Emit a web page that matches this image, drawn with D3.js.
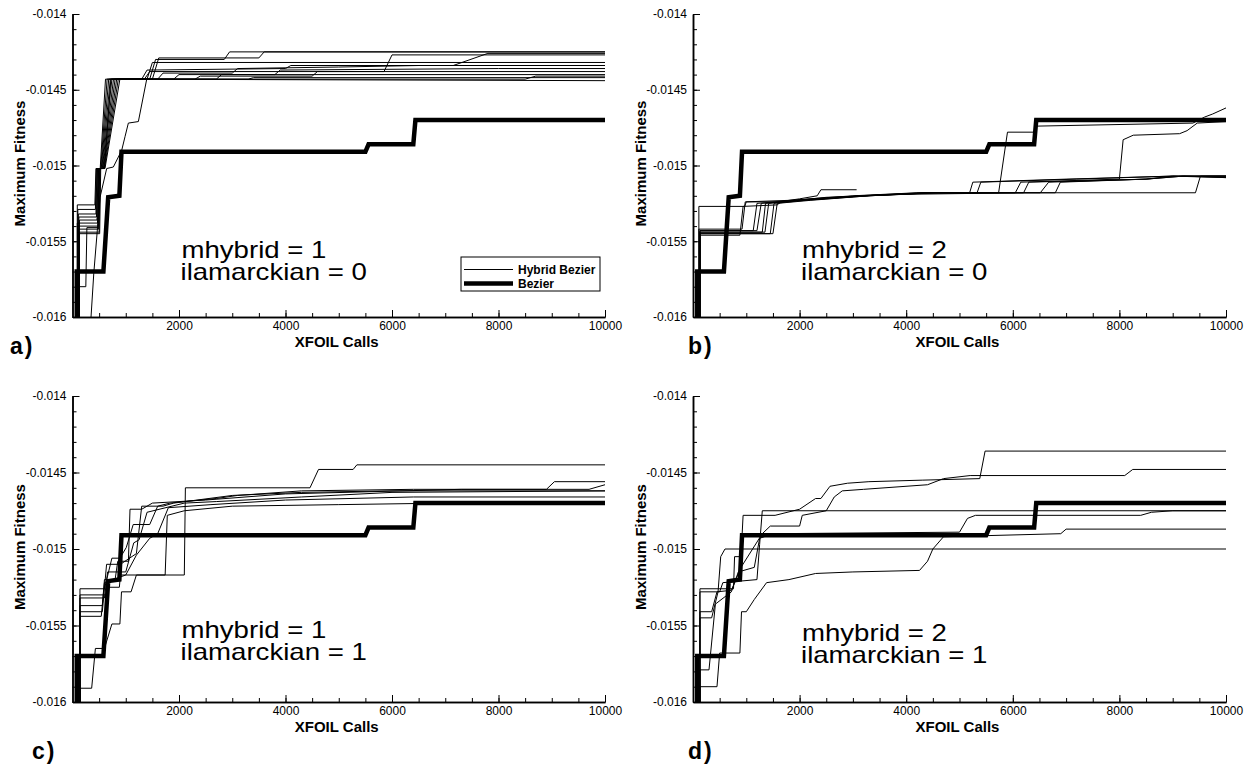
<!DOCTYPE html>
<html lang="en">
<head>
<meta charset="UTF-8" />
<title>Maximum Fitness vs XFOIL Calls</title>
<style>
  body { margin: 0; background: #fff; }
  svg { display: block; font-family: "Liberation Sans", Arial, sans-serif; }
  .axis path, .axis line { fill: none; stroke: #000; }
  .axis path { stroke-width: 1.5; }
  .axis text { font-size: 12px; fill: #000; font-family: "Liberation Sans", Arial, sans-serif; }
</style>
</head>
<body>
<div id="app"></div>
<script src="https://cdn.jsdelivr.net/npm/d3@7"></script>
<script>
// tick labels
const xTicks = [2000, 4000, 6000, 8000, 10000];
const yTicks = [-0.014, -0.0145, -0.015, -0.0155, -0.016];
const panelNames = ["a)", "b)", "c)", "d)"];
const mhybridValues = [1, 2, 1, 2];
const ilamarckianValues = [0, 0, 1, 1];
const legendNames = ["Hybrid Bezier", "Bezier"];

// [XFOIL calls, maximum fitness] — Bezier run (same in every panel)
const bezier = [[80,-0.0161],[80,-0.0157],[580,-0.0157],[670,-0.01521],[880,-0.0152],[920,-0.01491],[5500,-0.01491],[5560,-0.01486],[6400,-0.01486],[6440,-0.0147],[10000,-0.0147]];

// hybrid bezier runs, mhybrid = 1, ilamarckian = 0
const hybridA = [
  [[90,-0.0161],[90,-0.01526],[420,-0.01526],[440,-0.01502],[520,-0.01502],[620,-0.01443],[1450,-0.01443],[1560,-0.0143],[2850,-0.0143],[2950,-0.01425],[10000,-0.01425]],
  [[100,-0.0161],[100,-0.01529],[430,-0.01529],[450,-0.01502],[530,-0.01502],[650,-0.01443],[1500,-0.01443],[1620,-0.01429],[3500,-0.01429],[3600,-0.01425],[10000,-0.01425]],
  [[110,-0.0161],[110,-0.01532],[440,-0.01532],[460,-0.01502],[540,-0.01502],[680,-0.01443],[1350,-0.01443],[1450,-0.01438],[5850,-0.01438],[6000,-0.01427],[10000,-0.01427]],
  [[120,-0.0161],[120,-0.01534],[450,-0.01534],[470,-0.01502],[550,-0.01502],[710,-0.01443],[1300,-0.01443],[1400,-0.01437],[4000,-0.01436],[4100,-0.01434],[7150,-0.01434],[7800,-0.01426],[10000,-0.01426]],
  [[130,-0.0161],[130,-0.01536],[460,-0.01536],[480,-0.01502],[560,-0.01502],[740,-0.01443],[1400,-0.01443],[1500,-0.01432],[10000,-0.01432]],
  [[90,-0.0161],[90,-0.01538],[470,-0.01538],[490,-0.01502],[570,-0.01502],[770,-0.01443],[1600,-0.01443],[1700,-0.01439],[3000,-0.01439],[3100,-0.01436],[5000,-0.01435],[6500,-0.01434],[10000,-0.01434]],
  [[100,-0.0161],[100,-0.0154],[480,-0.0154],[500,-0.01502],[580,-0.01502],[800,-0.01443],[1900,-0.01443],[2000,-0.0144],[3800,-0.0144],[3900,-0.01437],[8000,-0.01436],[10000,-0.01436]],
  [[110,-0.0161],[110,-0.01542],[490,-0.01542],[510,-0.01502],[590,-0.01502],[830,-0.01443],[2300,-0.01443],[2400,-0.01441],[4500,-0.01441],[4600,-0.01438],[10000,-0.01438]],
  [[120,-0.0161],[120,-0.01544],[500,-0.01544],[520,-0.01502],[600,-0.01502],[860,-0.01443],[2700,-0.01443],[2800,-0.0144],[10000,-0.0144]],
  [[130,-0.0161],[130,-0.01545],[510,-0.01545],[530,-0.01502],[610,-0.01502],[890,-0.01443],[3300,-0.01443],[3400,-0.01442],[10000,-0.01442]],
  [[330,-0.0161],[400,-0.01571],[517,-0.01521],[642,-0.01502],[767,-0.01501],[924,-0.0149],[986,-0.01481],[1049,-0.01472],[1237,-0.01471],[1394,-0.01443],[8500,-0.01443],[8700,-0.01441],[10000,-0.01441]],
  [[95,-0.0161],[95,-0.0158],[250,-0.0158],[270,-0.01541],[480,-0.01541],[500,-0.01502],[600,-0.01502],[720,-0.01443],[10000,-0.01444]]
];

// mhybrid = 2, ilamarckian = 0
const hybridB = [
  [[110,-0.0161],[110,-0.01527],[970,-0.01527],[1000,-0.01524],[1600,-0.01524],[2000,-0.01522],[2330,-0.0152],[2400,-0.01516],[3070,-0.01516]],
  [[110,-0.0161],[110,-0.01542],[920,-0.01542],[980,-0.01524],[1800,-0.01523],[3000,-0.0152],[4200,-0.01518],[5190,-0.01518],[5250,-0.01511],[7000,-0.01509],[9000,-0.01507],[10000,-0.01507]],
  [[130,-0.0161],[130,-0.01543],[1130,-0.01543],[1200,-0.01525],[1900,-0.01523],[3100,-0.0152],[4300,-0.01518],[5330,-0.01518],[5400,-0.01511],[7200,-0.01509],[9000,-0.01507],[10000,-0.01508]],
  [[130,-0.0161],[130,-0.01544],[1300,-0.01544],[1360,-0.01525],[2000,-0.01523],[3200,-0.0152],[4400,-0.01518],[5734,-0.01518],[5900,-0.01478],[6400,-0.01478],[6450,-0.01474],[9380,-0.01472],[9600,-0.01468],[9750,-0.01466],[10000,-0.01462]],
  [[130,-0.0161],[130,-0.01544],[1350,-0.01544],[1420,-0.01525],[2000,-0.01523],[3200,-0.0152],[4500,-0.01518],[9427,-0.01518],[9520,-0.01507],[10000,-0.01507]],
  [[130,-0.0161],[130,-0.01545],[1450,-0.01545],[1520,-0.01525],[2100,-0.01523],[3300,-0.0152],[4500,-0.01518],[6047,-0.01518],[6150,-0.01511],[8000,-0.01509],[8070,-0.01483],[8260,-0.0148],[9130,-0.01479],[9270,-0.01477],[9460,-0.01472],[10000,-0.01471]],
  [[130,-0.0161],[130,-0.01545],[1500,-0.01545],[1580,-0.01525],[2200,-0.01523],[3300,-0.0152],[4600,-0.01518],[6516,-0.01518],[6673,-0.01511],[8500,-0.01509],[9200,-0.01507],[10000,-0.01507]],
  [[130,-0.0161],[130,-0.01546],[880,-0.01546],[940,-0.01527],[1580,-0.01526],[1650,-0.01524],[2500,-0.01521],[4000,-0.01519],[6203,-0.01518],[6300,-0.01511],[8500,-0.01509],[9200,-0.01507],[10000,-0.01508]],
  [[130,-0.0161],[130,-0.01543],[1200,-0.01543],[1280,-0.01525],[2000,-0.01523],[3200,-0.0152],[4500,-0.01518],[6798,-0.01518],[6892,-0.01511],[8500,-0.01509],[9000,-0.01507],[10000,-0.01507]]
];

// mhybrid = 1, ilamarckian = 1
const hybridC = [
  [[140,-0.0161],[140,-0.01526],[600,-0.01526],[740,-0.01506],[890,-0.01506],[1010,-0.01499],[1140,-0.01484],[1450,-0.01484],[1600,-0.01472],[1830,-0.0147],[2100,-0.01469],[2700,-0.01467],[3100,-0.01465],[4300,-0.01462],[6400,-0.01461],[8900,-0.01461],[9050,-0.01456],[10000,-0.01456]],
  [[150,-0.0161],[150,-0.01591],[360,-0.01591],[430,-0.01565],[600,-0.01565],[740,-0.01549],[890,-0.01549],[920,-0.01528],[1100,-0.01528],[1200,-0.01517],[2100,-0.01517],[2120,-0.0146],[4460,-0.0146],[4620,-0.01448],[5270,-0.01448],[5340,-0.01445],[10000,-0.01445]],
  [[140,-0.0161],[140,-0.01537],[560,-0.01537],[600,-0.0152],[800,-0.0152],[850,-0.01508],[1050,-0.01508],[1080,-0.01474],[1300,-0.01474],[1500,-0.0147],[2500,-0.01468],[4000,-0.01464],[7300,-0.01461],[9700,-0.01461],[10000,-0.01458]],
  [[140,-0.0161],[140,-0.01541],[560,-0.01541],[640,-0.0151],[900,-0.0151],[1200,-0.01503],[1300,-0.01472],[1700,-0.01472],[1900,-0.0147],[3000,-0.01465],[4300,-0.01463],[6000,-0.01462],[10000,-0.01462]],
  [[140,-0.0161],[140,-0.01544],[540,-0.01544],[600,-0.01522],[1000,-0.01517],[1200,-0.01504],[1450,-0.01493],[1600,-0.0149],[1800,-0.01473],[2600,-0.01471],[4000,-0.01468],[6400,-0.01466],[10000,-0.01466]],
  [[140,-0.0161],[140,-0.0153],[620,-0.0153],[660,-0.01525],[880,-0.01525],[900,-0.01517],[1740,-0.01517],[1780,-0.01478],[2100,-0.01475],[3000,-0.01472],[5000,-0.01471],[7000,-0.0147],[10000,-0.01469]],
  [[140,-0.0161],[140,-0.01532],[600,-0.01532],[660,-0.01515],[1000,-0.01515],[1150,-0.01496],[1250,-0.01494],[1400,-0.01476],[2100,-0.0147],[2700,-0.01469],[4300,-0.01466],[6000,-0.01463],[10000,-0.01462]]
];

// mhybrid = 2, ilamarckian = 1
const hybridD = [
  [[130,-0.0161],[130,-0.01526],[760,-0.01526],[780,-0.01505],[900,-0.01505],[940,-0.01478],[1540,-0.01478],[2000,-0.01474],[2300,-0.01467],[2400,-0.01467],[2570,-0.01459],[2900,-0.01457],[3300,-0.01456],[4300,-0.01455],[5380,-0.01454],[5480,-0.01436],[10000,-0.01436]],
  [[130,-0.0161],[130,-0.01541],[350,-0.01541],[450,-0.01528],[720,-0.01527],[900,-0.01512],[1300,-0.0149],[1450,-0.01485],[2000,-0.01485],[2050,-0.01478],[2500,-0.01475],[2650,-0.01466],[2800,-0.01462],[3200,-0.01461],[4400,-0.01458],[4700,-0.01454],[5200,-0.01452],[8100,-0.01452],[8250,-0.01448],[10000,-0.01448]],
  [[130,-0.0161],[130,-0.01528],[500,-0.01528],[560,-0.01522],[1200,-0.0152],[1250,-0.01497],[1300,-0.01475],[10000,-0.01475]],
  [[130,-0.0161],[130,-0.01579],[300,-0.01579],[420,-0.01536],[720,-0.01528],[850,-0.01515],[1150,-0.01512],[1250,-0.01493],[1500,-0.0149],[5000,-0.01489],[5150,-0.0148],[5300,-0.01478],[8400,-0.01478],[8600,-0.01476],[9000,-0.01475],[10000,-0.01475]],
  [[130,-0.0161],[130,-0.01545],[350,-0.01545],[470,-0.01528],[520,-0.01505],[600,-0.015],[10000,-0.015]],
  [[130,-0.0161],[130,-0.0159],[450,-0.0159],[500,-0.01568],[880,-0.01568],[910,-0.01541],[1000,-0.01541],[1150,-0.01533],[1380,-0.01522],[1800,-0.0152],[2300,-0.01516],[3000,-0.01515],[4250,-0.01514],[4400,-0.01508],[4500,-0.015],[4700,-0.01492],[6900,-0.0149],[7000,-0.01487],[10000,-0.01487]]
];

const hybridRuns = [hybridA, hybridB, hybridC, hybridD];

// panel frames (pixels)
const panels = [
  { left: 72.5, right: 605, top: 14, bottom: 317, nameX: 10, nameY: 354, textY: 258, legend: true },
  { left: 693, right: 1226, top: 14, bottom: 317, nameX: 688, nameY: 354, textY: 258, legend: false },
  { left: 72.5, right: 605, top: 396, bottom: 702, nameX: 32, nameY: 759, textY: 638, legend: false },
  { left: 693, right: 1226, top: 396, bottom: 702, nameX: 688, nameY: 759, textY: 641, legend: false }
];

const width = 1251;
const height = 767;

const svg = d3.select("#app")
  .append("svg")
  .attr("width", width)
  .attr("height", height);

panels.forEach(function(p, i) {
  const x = d3.scaleLinear().domain([0, 10000]).range([p.left, p.right]);
  const y = d3.scaleLinear().domain([-0.016, -0.014]).range([p.bottom, p.top]);

  const g = svg.append("g");

  // clip to plot area
  const clipId = "clip" + i;
  svg.append("clipPath").attr("id", clipId)
    .append("rect")
    .attr("x", p.left)
    .attr("y", p.top - 3)
    .attr("width", p.right - p.left + 3)
    .attr("height", p.bottom - p.top + 3);

  const line = d3.line()
    .x(function(d) { return x(d[0]); })
    .y(function(d) { return y(d[1]); });

  const plot = g.append("g").attr("clip-path", "url(#" + clipId + ")");

  plot.selectAll("path.hybrid")
    .data(hybridRuns[i])
    .enter()
    .append("path")
    .attr("class", "hybrid")
    .attr("d", line)
    .attr("fill", "none")
    .attr("stroke", "#000")
    .attr("stroke-width", 1);

  plot.append("path")
    .datum(bezier)
    .attr("d", line)
    .attr("fill", "none")
    .attr("stroke", "#000")
    .attr("stroke-width", 4.5);

  // minor ticks
  g.append("g")
    .attr("class", "axis")
    .attr("transform", "translate(" + p.left + ",0)")
    .call(d3.axisLeft(y).tickValues(d3.range(-160, -139).map(function(k) { return k / 10000; }))
      .tickSize(-4).tickSizeOuter(0).tickFormat(""));
  g.append("g")
    .attr("class", "axis")
    .attr("transform", "translate(0," + p.bottom + ")")
    .call(d3.axisBottom(x).tickValues(d3.range(500, 10001, 500))
      .tickSize(-4).tickSizeOuter(0).tickFormat(""));

  // major ticks
  g.append("g")
    .attr("class", "axis")
    .attr("transform", "translate(" + p.left + ",0)")
    .call(d3.axisLeft(y).tickValues(yTicks).tickSize(-7).tickSizeOuter(0).tickPadding(6)
      .tickFormat(function(d) { return String(d); }));
  g.append("g")
    .attr("class", "axis")
    .attr("transform", "translate(0," + p.bottom + ")")
    .call(d3.axisBottom(x).tickValues(xTicks).tickSize(-7).tickSizeOuter(0).tickPadding(4)
      .tickFormat(function(d) { return String(d); }));

  // axis titles
  g.append("text")
    .attr("transform", "translate(" + (p.left - 47.5) + "," + ((p.top + p.bottom) / 2 - 2) + ") rotate(-90)")
    .attr("text-anchor", "middle")
    .attr("font-size", 15)
    .attr("font-weight", "bold")
    .text("Maximum Fitness");

  g.append("text")
    .attr("x", (p.left + p.right) / 2 - 2)
    .attr("y", p.bottom + 30)
    .attr("text-anchor", "middle")
    .attr("font-size", 15)
    .attr("font-weight", "bold")
    .text("XFOIL Calls");

  // run settings
  g.append("text")
    .attr("transform", "translate(" + (p.left + 109) + "," + p.textY + ") scale(1.2,1)")
    .attr("font-size", 23)
    .text("mhybrid = " + mhybridValues[i]);
  g.append("text")
    .attr("transform", "translate(" + (p.left + 108) + "," + (p.textY + 22) + ") scale(1.2,1)")
    .attr("font-size", 23)
    .text("ilamarckian = " + ilamarckianValues[i]);

  // panel label
  g.append("text")
    .attr("x", p.nameX)
    .attr("y", p.nameY)
    .attr("font-size", 23)
    .attr("font-weight", "bold")
    .attr("letter-spacing", 2)
    .text(panelNames[i]);

  if (p.legend) {
    const lg = g.append("g").attr("transform", "translate(461,257)");
    lg.append("rect")
      .attr("width", 139).attr("height", 34)
      .attr("fill", "#fff").attr("stroke", "#000").attr("stroke-width", 1);
    const widths = [1, 4.5];
    legendNames.forEach(function(name, k) {
      lg.append("line")
        .attr("x1", 3).attr("x2", 52)
        .attr("y1", 12.5 + k * 14).attr("y2", 12.5 + k * 14)
        .attr("stroke", "#000").attr("stroke-width", widths[k]);
      lg.append("text")
        .attr("x", 57).attr("y", 16.5 + k * 14)
        .attr("font-size", 12).attr("font-weight", "bold")
        .text(name);
    });
  }
});
</script>
</body>
</html>
